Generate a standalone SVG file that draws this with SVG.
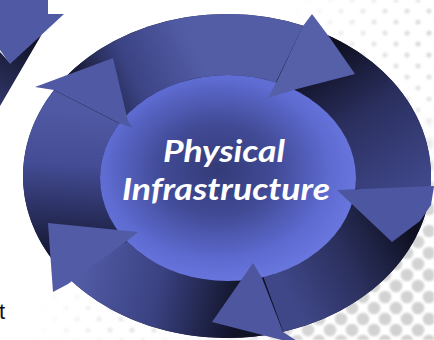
<svg xmlns="http://www.w3.org/2000/svg" width="434" height="340" viewBox="0 0 434 340">
  <style>
    .label { font-family: "Lato", "Open Sans", "DejaVu Sans", sans-serif; font-weight: 700; font-style: italic; font-size: 31px; fill: #ffffff; text-anchor: middle; }
    .stray { font-family: "Liberation Sans", Arial, sans-serif; font-size: 22px; fill: #111111; }
  </style>
  <defs>
    <!-- halftone dot grids -->
    <pattern id="dotsBig" width="22" height="22" patternUnits="userSpaceOnUse">
      <g fill="#d0d0d0">
        <circle cx="0" cy="0" r="6.3"/><circle cx="22" cy="0" r="6.3"/>
        <circle cx="0" cy="22" r="6.3"/><circle cx="22" cy="22" r="6.3"/>
        <circle cx="11" cy="11" r="6.3"/>
      </g>
    </pattern>
    <pattern id="dotsSmall" width="22" height="22" patternUnits="userSpaceOnUse">
      <g fill="#d6d6d6">
        <circle cx="0" cy="0" r="2.6"/><circle cx="22" cy="0" r="2.6"/>
        <circle cx="0" cy="22" r="2.6"/><circle cx="22" cy="22" r="2.6"/>
        <circle cx="11" cy="11" r="2.6"/>
      </g>
    </pattern>
    <radialGradient id="fadeBR" cx="434" cy="340" r="230" gradientUnits="userSpaceOnUse">
      <stop offset="0" stop-color="#fff"/>
      <stop offset="0.55" stop-color="#fff" stop-opacity="0.9"/>
      <stop offset="1" stop-color="#fff" stop-opacity="0"/>
    </radialGradient>
    <radialGradient id="fadeTR" cx="434" cy="40" r="150" gradientUnits="userSpaceOnUse">
      <stop offset="0" stop-color="#fff"/>
      <stop offset="1" stop-color="#fff" stop-opacity="0"/>
    </radialGradient>
    <radialGradient id="fadeBL" cx="140" cy="340" r="110" gradientUnits="userSpaceOnUse">
      <stop offset="0" stop-color="#fff" stop-opacity="0.7"/>
      <stop offset="1" stop-color="#fff" stop-opacity="0"/>
    </radialGradient>
    <mask id="maskBR"><rect width="434" height="340" fill="url(#fadeBR)"/></mask>
    <mask id="maskTR"><rect width="434" height="340" fill="url(#fadeTR)"/></mask>
    <mask id="maskBL"><rect width="434" height="340" fill="url(#fadeBL)"/></mask>
    <filter id="soft" x="-5%" y="-5%" width="110%" height="110%">
      <feGaussianBlur stdDeviation="0.8"/>
    </filter>

    <!-- arrow body shading: dark at the tail, light toward the head -->
    <linearGradient id="g1" gradientUnits="userSpaceOnUse" x1="70" y1="268" x2="78" y2="110">
      <stop offset="0" stop-color="#0f1124"/>
      <stop offset="0.3" stop-color="#262b58"/>
      <stop offset="0.65" stop-color="#434c94"/>
      <stop offset="1" stop-color="#5059a3"/>
    </linearGradient>
    <linearGradient id="g2" gradientUnits="userSpaceOnUse" x1="75" y1="85" x2="190" y2="35">
      <stop offset="0" stop-color="#15182f"/>
      <stop offset="0.45" stop-color="#3b4384"/>
      <stop offset="1" stop-color="#535da6"/>
    </linearGradient>
    <linearGradient id="g3" gradientUnits="userSpaceOnUse" x1="335" y1="45" x2="425" y2="185">
      <stop offset="0" stop-color="#0e0f20"/>
      <stop offset="0.45" stop-color="#2b3060"/>
      <stop offset="1" stop-color="#40488c"/>
    </linearGradient>
    <linearGradient id="g4" gradientUnits="userSpaceOnUse" x1="415" y1="238" x2="295" y2="305">
      <stop offset="0" stop-color="#0e1021"/>
      <stop offset="0.5" stop-color="#2a2f5c"/>
      <stop offset="1" stop-color="#3f4788"/>
    </linearGradient>
    <linearGradient id="g5" gradientUnits="userSpaceOnUse" x1="245" y1="285" x2="80" y2="250">
      <stop offset="0" stop-color="#101226"/>
      <stop offset="0.5" stop-color="#3a4282"/>
      <stop offset="1" stop-color="#535da7"/>
    </linearGradient>
    <linearGradient id="gCorner" gradientUnits="userSpaceOnUse" x1="40" y1="40" x2="5" y2="100">
      <stop offset="0" stop-color="#0f1022"/>
      <stop offset="1" stop-color="#2d3363"/>
    </linearGradient>

    <!-- centre disc -->
    <radialGradient id="hub" cx="0.46" cy="0.46" r="0.55">
      <stop offset="0" stop-color="#343b78"/>
      <stop offset="0.4" stop-color="#414a95"/>
      <stop offset="0.8" stop-color="#5e6bd1"/>
      <stop offset="1" stop-color="#6876de"/>
    </radialGradient>
  </defs>

  <rect width="434" height="340" fill="#ffffff"/>

  <!-- halftone backdrop -->
  <g id="backdrop" filter="url(#soft)">
    <rect width="434" height="340" fill="url(#dotsBig)" mask="url(#maskBR)"/>
    <rect width="434" height="340" fill="url(#dotsSmall)" mask="url(#maskTR)"/>
    <rect width="434" height="340" fill="url(#dotsSmall)" mask="url(#maskBL)"/>
  </g>

  <!-- neighbouring arrow, clipped at the corner -->
  <g id="corner-arrow">
    <polygon points="42,34 10,63 0,52 0,106" fill="url(#gCorner)"/>
    <polygon points="0,0 48,0 48,14 64,14 10,64 0,50" fill="#5059a3"/>
  </g>

  <g id="cycle">
    <ellipse cx="227" cy="176" rx="204" ry="162" fill="#1e2142"/>

    <!-- arrow bodies -->
    <g id="arrows-bodies">
      <path id="body-left" d="M66.2,275.7 A204,162 0 0 1 54,90.1 L119.5,123.4 A128,103 0 0 0 127.1,241.4 Z" fill="url(#g1)"/>
      <path id="body-top" d="M54,90.1 A204,162 0 0 1 303.4,25.8 L275.9,82.5 A128,103 0 0 0 119.5,123.4 Z" fill="url(#g2)"/>
      <path id="body-right" d="M303.4,25.8 A204,162 0 0 1 429.9,192.9 L355.3,188.8 A128,103 0 0 0 275.9,82.5 Z" fill="url(#g3)"/>
      <path id="body-bottom-right" d="M429.9,192.9 A204,162 0 0 1 283.2,331.7 L263.3,277 A128,103 0 0 0 355.3,188.8 Z" fill="url(#g4)"/>
      <path id="body-bottom-left" d="M283.2,331.7 A204,162 0 0 1 66.2,275.7 L127.1,241.4 A128,103 0 0 0 263.3,277 Z" fill="url(#g5)"/>
    </g>

    <g id="hub-node">
      <ellipse cx="228" cy="178" rx="128" ry="103" fill="url(#hub)"/>
    </g>

    <!-- arrowheads -->
    <g id="arrow-heads">
      <polygon id="head-left" points="54,90 35,87 113,58 128,121 133,128 119,123" fill="#5059a3"/>
      <polygon id="head-top" points="303,26 312,14 330,38 355,74 297,89 268,98 276,83" fill="#5560a9"/>
      <polygon id="head-right" points="337,190 434,186 431,205 420,221 392,242" fill="#4d56a0"/>
      <polygon id="head-bottom-right" points="262,278 253,263 212,322 305,346 283,332" fill="#4d569e"/>
      <polygon id="head-bottom-left" points="127,241 138,232 48,223 53,292 68,284" fill="#525ca6"/>
    </g>

    <g id="hub-label">
      <text class="label" x="224" y="162" textLength="122" lengthAdjust="spacingAndGlyphs">Physical</text>
      <text class="label" x="226" y="200" textLength="208" lengthAdjust="spacingAndGlyphs">Infrastructure</text>
    </g>
  </g>

  <text class="stray" x="-1" y="319">t</text>
</svg>
